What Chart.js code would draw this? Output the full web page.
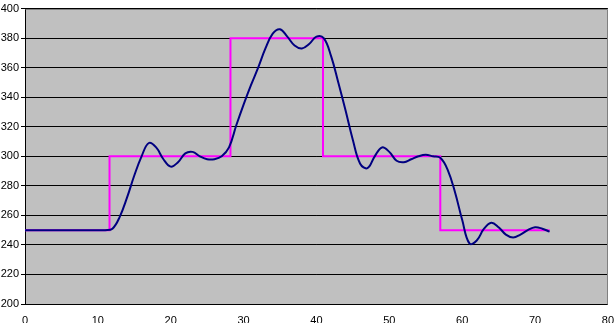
<!DOCTYPE html>
<html>
<head>
<meta charset="utf-8">
<script src="https://cdn.jsdelivr.net/npm/chart.js@4"></script>
<style>
  html, body { margin: 0; padding: 0; background: #fff; }
  #wrap { width: 616px; height: 323px; }
</style>
</head>
<body>
<div id="wrap"><canvas id="c" width="616" height="323"></canvas></div>
<script>
/* ============ Data ============ */
// setpoint (step) series
const stepX = [0, 11.6, 11.6, 28.2, 28.2, 40.9, 40.9, 57.0, 57.0, 72.0];
const stepY = [250, 250, 300, 300, 380, 380, 300, 300, 250, 250];

// response (smooth) series
const respX = [0, 2, 4, 6, 8, 10, 11, 12, 13, 14, 15, 16, 17, 18, 19, 20, 21, 22, 23, 24,
    25, 26, 27, 28, 29, 30, 31, 32, 33, 34, 35, 36, 37, 38, 39, 40, 41, 42, 43, 44,
    45, 46, 47, 48, 49, 50, 51, 52, 53, 54, 55, 56, 57, 58, 59, 60, 61, 62, 63, 64,
    65, 66, 67, 68, 69, 70, 71, 72];
const respY = [250, 250, 250, 250, 250, 250, 250, 251, 259, 272, 287, 300, 309, 306, 298, 293, 296, 302, 303, 300,
    298, 298, 300, 306, 321, 335, 348, 360, 373, 383, 386, 381, 375, 373, 376, 381, 380, 368, 350, 331,
    311, 295, 292, 300, 306, 303, 297, 296, 298, 300, 301, 300, 299, 291, 276, 257, 241, 243, 251, 255,
    252, 247, 245, 247, 250, 252, 251, 249];

const xTicks = [0, 10, 20, 30, 40, 50, 60, 70, 80];
const yTicks = [200, 220, 240, 260, 280, 300, 320, 340, 360, 380, 400];

/* ============ Plot area background ============ */
const plotBg = {
    id: "plotBg",
    beforeDraw(chart) {
        const {ctx, chartArea: a} = chart;
        ctx.save();
        ctx.fillStyle = "#c0c0c0";
        ctx.fillRect(a.left, a.top, a.right - a.left, a.bottom - a.top);
        ctx.restore();
    },
    afterDraw(chart) {
        const {ctx, chartArea: a} = chart;
        ctx.save();
        ctx.strokeStyle = "#808080";
        ctx.lineWidth = 1;
        ctx.beginPath();
        ctx.moveTo(Math.round(a.left) + 0.5, Math.round(a.top) + 0.5);
        ctx.lineTo(Math.round(a.right) - 0.5, Math.round(a.top) + 0.5);
        ctx.lineTo(Math.round(a.right) - 0.5, Math.round(a.bottom) + 0.5);
        ctx.stroke();
        ctx.restore();
    }
};

const toPts = (xs, ys) => xs.map((x, i) => ({x, y: ys[i]}));
const font = {family: "Arial, 'Liberation Sans', sans-serif", size: 11};

new Chart(document.getElementById("c"), {
    type: "scatter",
    data: {
        datasets: [
            {
                label: "Response",
                data: toPts(respX, respY),
                showLine: true,
                borderColor: "#000080",
                borderWidth: 2,
                pointRadius: 0,
                tension: 0.4,
                fill: false
            },
            {
                label: "Setpoint",
                data: toPts(stepX, stepY),
                showLine: true,
                borderColor: "#ff00ff",
                borderWidth: 2,
                pointRadius: 0,
                tension: 0,
                fill: false
            }
        ]
    },
    options: {
        animation: false,
        responsive: false,
        maintainAspectRatio: false,
        layout: {padding: {top: 4, right: 6, left: 0, bottom: 0}},
        plugins: {legend: {display: false}, tooltip: {enabled: false}},
        scales: {
            x: {
                type: "linear",
                min: 0, max: 80,
                afterBuildTicks: s => { s.ticks = xTicks.map(v => ({value: v})); },
                afterFit: s => { s.height = 19; },
                grid: {display: false, drawTicks: true},
                border: {display: true, color: "#000", width: 1},
                ticks: {color: "#000", font, padding: 2, maxRotation: 0}
            },
            y: {
                min: 200, max: 400,
                afterBuildTicks: s => { s.ticks = yTicks.map(v => ({value: v})); },
                afterFit: s => { s.width = 25; },
                grid: {color: "#000", lineWidth: 1, tickLength: 4, drawTicks: true},
                border: {display: true, color: "#000", width: 1},
                ticks: {color: "#000", font, padding: 2}
            }
        }
    },
    plugins: [plotBg]
});
</script>
</body>
</html>
